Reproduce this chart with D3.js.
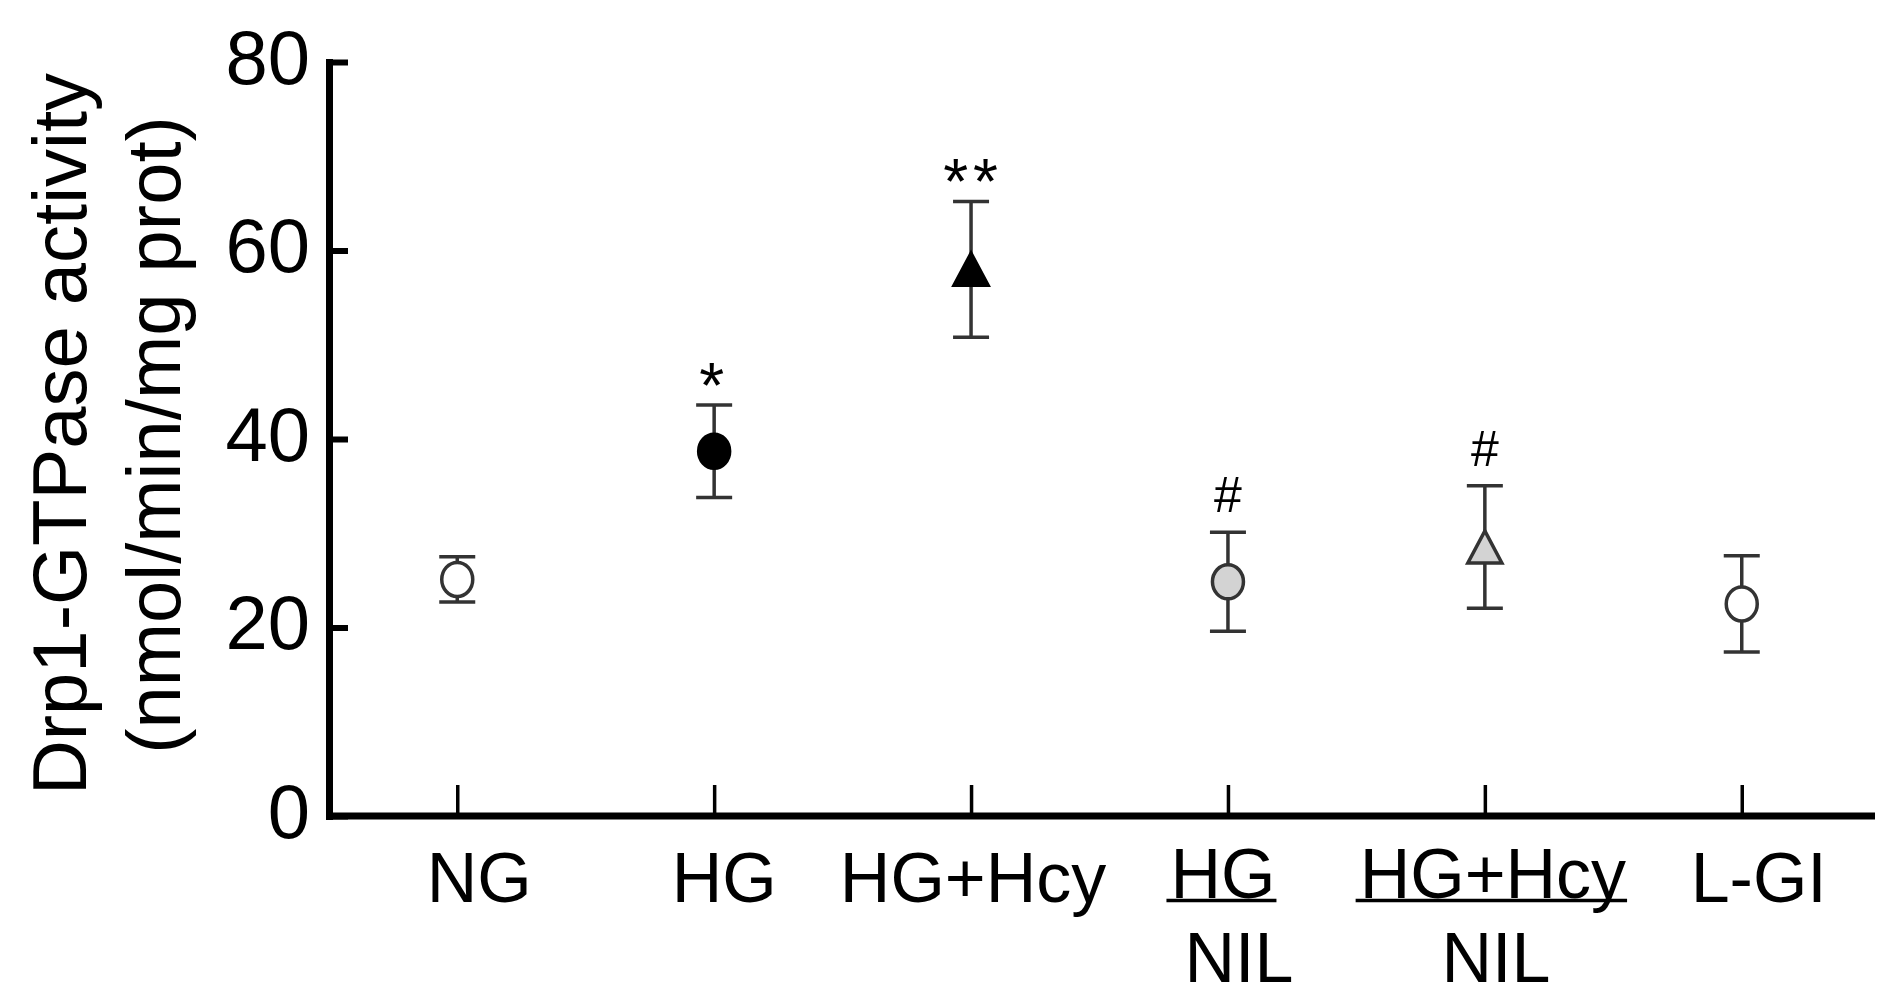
<!DOCTYPE html>
<html>
<head>
<meta charset="utf-8">
<script src="https://cdn.jsdelivr.net/npm/d3@7"></script>
<style>
  body { margin: 0; background: #fff; }
  text { font-family: "Liberation Sans", Arial, sans-serif; fill: #000; }
</style>
</head>
<body>
<div class="container"></div>
<script>
const w = 1893;
const h = 1007;

// data
const categories = ["NG", "HG", "HG+Hcy", "HG+NIL", "HG+Hcy+NIL", "L-GI"];
const labelTop = ["NG", "HG", "HG+Hcy", "HG", "HG+Hcy", "L-GI"];
const labelBottom = ["", "", "", "NIL", "NIL", ""];
const means = [25.1, 38.7, 58.0, 24.85, 28.55, 22.5];
const errors = [2.4, 4.9, 7.2, 5.25, 6.5, 5.1];
const shapes = ["circle", "circle", "triangle", "circle", "triangle", "circle"];
const fills = ["#ffffff", "#000000", "#000000", "#d3d3d3", "#d3d3d3", "#ffffff"];
const marks = ["", "*", "**", "#", "#", ""];
const yTicks = [0, 20, 40, 60, 80];

// label placement relative to the tick (layout only)
const labelDx = [22, 10, 2, -5, 8, 17];

const svg = d3.select('.container').append('svg')
  .attr('width', w)
  .attr('height', h);

svg.append('rect').attr('width', w).attr('height', h).attr('fill', '#fff');

const x = d3.scalePoint()
  .domain(categories)
  .range([327, 1872])
  .padding(0.507);

const y = d3.scaleLinear()
  .domain([0, 80])
  .range([816, 62]);

// y axis, ticks point inward
const yAxis = svg.append('g')
  .attr('transform', 'translate(329,0)')
  .call(d3.axisLeft(y).tickValues(yTicks).tickSizeInner(-19).tickSizeOuter(0).tickPadding(19));

yAxis.select('.domain')
  .attr('stroke', '#000')
  .attr('stroke-width', 7)
  .attr('stroke-linecap', 'square');
yAxis.selectAll('.tick line')
  .attr('stroke', '#000')
  .attr('stroke-width', 6);
yAxis.selectAll('.tick text')
  .attr('dy', '0.28em')
  .style('font-size', '76px')
  .style('font-family', '"Liberation Sans", Arial, sans-serif')
  .attr('fill', '#000');

// x axis
const xAxis = svg.append('g')
  .attr('transform', 'translate(0,816)')
  .call(d3.axisBottom(x).tickSizeInner(-31).tickSizeOuter(0).tickFormat(''));

xAxis.select('.domain')
  .attr('d', 'M329,0H1875')
  .attr('stroke', '#000')
  .attr('stroke-width', 7);
xAxis.selectAll('.tick line')
  .attr('stroke', '#000')
  .attr('stroke-width', 3.5);

// category labels
const labels = svg.append('g');
categories.forEach((c, i) => {
  const cx = x(c) + labelDx[i];
  const t = labels.append('text')
    .attr('x', cx)
    .attr('y', labelBottom[i] ? 898 : 902)
    .attr('text-anchor', 'middle')
    .style('font-size', '70px')
    .text(labelTop[i]);
  if (labelBottom[i]) {
    const bb = t.node().getBBox();
    labels.append('line')
      .attr('x1', bb.x - 4)
      .attr('x2', bb.x + bb.width + 1)
      .attr('y1', 900.5)
      .attr('y2', 900.5)
      .attr('stroke', '#000')
      .attr('stroke-width', 3.5);
    labels.append('text')
      .attr('x', x(c) + 11)
      .attr('y', 982)
      .attr('text-anchor', 'middle')
      .style('font-size', '70px')
      .text(labelBottom[i]);
  }
});

// y axis title
const title = svg.append('g').attr('transform', 'rotate(-90)');
title.append('text')
  .attr('x', -434)
  .attr('y', 86)
  .attr('text-anchor', 'middle')
  .style('font-size', '76px')
  .text('Drp1-GTPase activity');
title.append('text')
  .attr('x', -435)
  .attr('y', 180)
  .attr('text-anchor', 'middle')
  .style('font-size', '76px')
  .text('(nmol/min/mg prot)');

// error bars
const capW = 36;
const bars = svg.append('g')
  .attr('stroke', '#333')
  .attr('stroke-width', 3.5);

categories.forEach((c, i) => {
  const cx = x(c);
  const top = y(means[i] + errors[i]);
  const bot = y(means[i] - errors[i]);
  bars.append('line').attr('x1', cx).attr('x2', cx).attr('y1', top).attr('y2', bot);
  bars.append('line').attr('x1', cx - capW / 2).attr('x2', cx + capW / 2).attr('y1', top).attr('y2', top);
  bars.append('line').attr('x1', cx - capW / 2).attr('x2', cx + capW / 2).attr('y1', bot).attr('y2', bot);
});

// markers
const pts = svg.append('g');
categories.forEach((c, i) => {
  const cx = x(c);
  const cy = y(means[i]);
  if (shapes[i] === 'circle') {
    pts.append('ellipse')
      .attr('cx', cx).attr('cy', cy)
      .attr('rx', 15.5).attr('ry', 17)
      .attr('fill', fills[i])
      .attr('stroke', fills[i] === '#000000' ? '#000' : '#333')
      .attr('stroke-width', 3.5);
  } else {
    const tw = 34, th = 32;
    pts.append('path')
      .attr('d', `M${cx},${cy - th / 2}L${cx + tw / 2},${cy + th / 2}L${cx - tw / 2},${cy + th / 2}Z`)
      .attr('fill', fills[i])
      .attr('stroke', fills[i] === '#000000' ? '#000' : '#333')
      .attr('stroke-width', 3.5)
      .attr('stroke-linejoin', 'miter');
  }
});

// significance marks
const sig = svg.append('g');
categories.forEach((c, i) => {
  if (!marks[i]) return;
  const top = y(means[i] + errors[i]);
  const isStar = marks[i].indexOf('*') >= 0;
  sig.append('text')
    .attr('x', x(c) + (isStar && marks[i].length > 1 ? 2 : 0))
    .attr('y', isStar ? top + 3 : top - 20)
    .attr('text-anchor', 'middle')
    .style('font-size', isStar ? '64px' : '50px')
    .style('letter-spacing', isStar ? '5px' : '0px')
    .text(marks[i]);
});
</script>
</body>
</html>
